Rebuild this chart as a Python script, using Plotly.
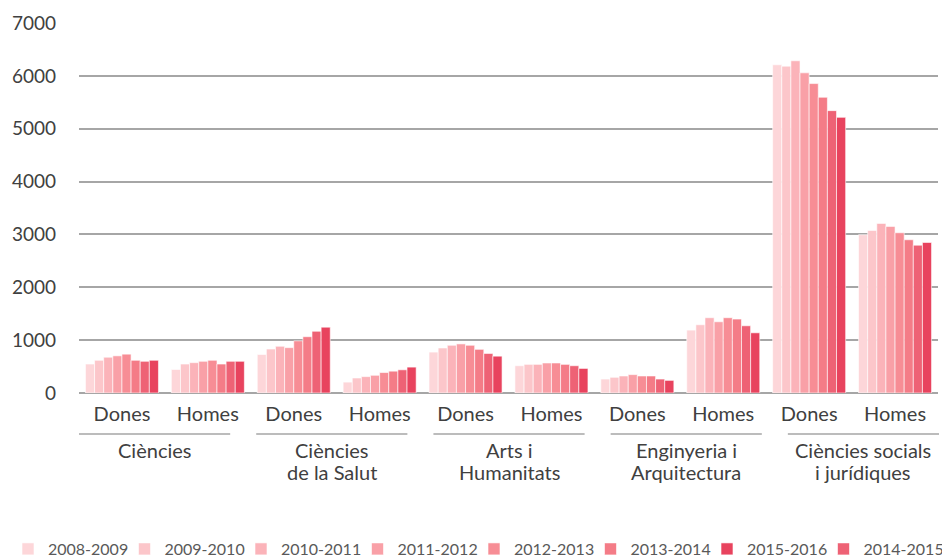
import plotly.graph_objects as go

# Titulats per àmbit i sexe, cursos 2008-2009 a 2015-2016

ambits = ['Ciències', 'Ciències<br>de la Salut', 'Arts i<br>Humanitats',
          'Enginyeria i<br>Arquitectura', 'Ciències socials<br>i jurídiques']
sexes = ['Dones', 'Homes']

cursos = ['2008-2009', '2009-2010', '2010-2011', '2011-2012',
          '2012-2013', '2013-2014', '2014-2015', '2015-2016']

# valors per curs: Ciències D/H, Salut D/H, Arts D/H, Enginyeria D/H, CSJ D/H
v2008 = [548, 445, 729, 206, 774, 516, 264, 1190, 6209, 2994]
v2009 = [619, 548, 832, 284, 852, 542, 297, 1291, 6184, 3076]
v2010 = [677, 574, 884, 310, 903, 542, 322, 1424, 6285, 3209]
v2011 = [703, 600, 858, 335, 929, 568, 348, 1348, 6057, 3152]
v2012 = [735, 619, 987, 387, 903, 568, 322, 1424, 5854, 3032]
v2013 = [619, 548, 1065, 413, 826, 542, 322, 1399, 5595, 2899]
v2014 = [600, 600, 1168, 439, 748, 516, 264, 1272, 5342, 2797]
v2015 = [619, 600, 1245, 490, 697, 465, 239, 1139, 5215, 2848]
valors = [v2008, v2009, v2010, v2011, v2012, v2013, v2014, v2015]

colors = ['#fdd6d9', '#fcc6ca', '#fbb3b9', '#f9a0a7', '#f78d95',
          '#f47c87', '#ee6275', '#e8435e']
# ordre de la llegenda com a l'original (2015-2016 abans de 2014-2015)
legend_slot = [0, 1, 2, 3, 4, 5, 7, 6]

FONT = 'Lato'
TXT = '#404040'
# la pàgina html afegeix 8px de marge al body
L, R, T, B = 71, 20, 15, 173
W, H = 950, 558
plot_w = W - L - R
plot_h = H - T - B

posicions = list(range(len(ambits) * len(sexes)))
etiquetes = [s for a in ambits for s in sexes]

fig = go.Figure()
legends = {}
for curs, vals, col, slot in zip(cursos, valors, colors, legend_slot):
    key = 'legend' if slot == 0 else 'legend%d' % (slot + 1)
    fig.add_trace(go.Bar(x=posicions, y=vals, name=curs, legend=key, showlegend=True,
                         marker=dict(color=col, line=dict(color='white', width=0.6))))
    # una llegenda per element, repartides per tota l'amplada
    box_px = 116.5 * slot
    legends[key] = dict(orientation='h', x=(box_px - L) / plot_w, xanchor='left',
                        y=-(541 - (H - B)) / plot_h, yanchor='middle',
                        font=dict(family=FONT, size=16, color='#595959'),
                        itemwidth=30, bgcolor='rgba(0,0,0,0)')

# etiquetes de grup i línies sota Dones/Homes
for i, a in enumerate(ambits):
    x0 = i * 0.2063
    x1 = x0 + 0.176
    fig.add_shape(type='line', xref='paper', yref='paper', x0=x0, x1=x1,
                  y0=-0.111, y1=-0.111, line=dict(color='#a6a6a6', width=1.5))
    for j, linia in enumerate(a.split('<br>')):
        fig.add_annotation(x=(x0 + x1) / 2, y=-(57 + 22 * j) / plot_h,
                           xref='paper', yref='paper',
                           text=linia, showarrow=False, xanchor='center', yanchor='middle',
                           font=dict(family=FONT, size=20, color=TXT))

fig.update_layout(
    width=W, height=H,
    margin=dict(l=L, r=R, t=T, b=B, autoexpand=False),
    plot_bgcolor='white', paper_bgcolor='white',
    showlegend=True,
    barmode='group', bargap=0.15, bargroupgap=0,
    font=dict(family=FONT, color=TXT),
    xaxis=dict(tickvals=posicions, ticktext=etiquetes, range=[-0.5, 9.5],
               showgrid=False, zeroline=False, showline=False,
               tickfont=dict(family=FONT, size=20, color=TXT),
               ticklabelstandoff=7),
    yaxis=dict(range=[0, 7000], dtick=1000, showgrid=True,
               gridcolor='#a6a6a6', gridwidth=1.5,
               zeroline=True, zerolinecolor='#a6a6a6', zerolinewidth=1.5,
               tickfont=dict(family=FONT, size=19, color=TXT),
               ticklabelstandoff=22),
    **legends,
)

fig.write_html("out.html")
